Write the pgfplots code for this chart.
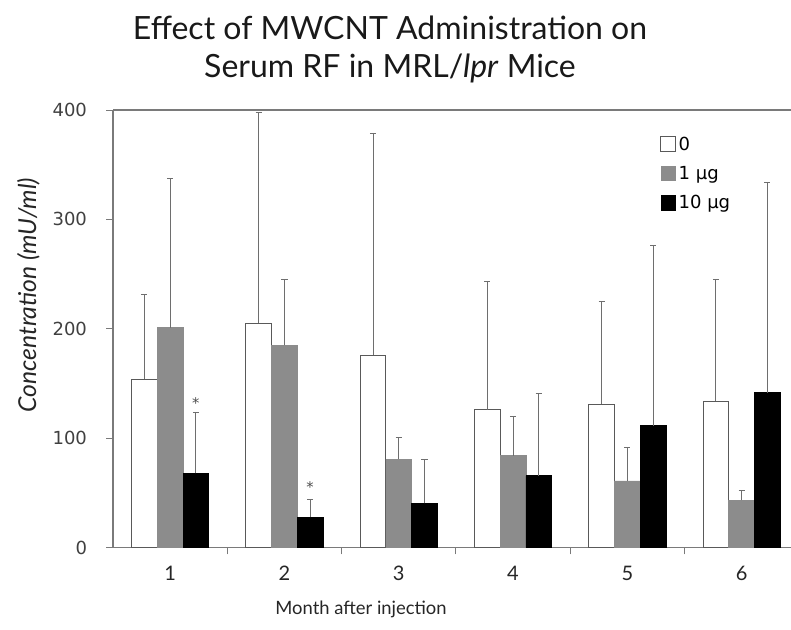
\documentclass[border=0pt]{standalone}
\usepackage{pgfplots}
\usepackage{pgfplotstable}
\pgfplotsset{compat=1.18}
\usepackage{fontspec}
\setmainfont{Lato}
\newfontfamily\verd{DejaVu Sans}
\definecolor{barg}{HTML}{8C8C8C}
\definecolor{axg}{HTML}{7A7A7A}
\definecolor{errg}{HTML}{6E6E6E}

\pgfplotstableread{
x y e
1 154 77
2 205 192.5
3 176 203
4 126 117
5 131 94
6 134 111
}\zero
\pgfplotstableread{
x y e
1 201 136
2 185 60
3 81 20
4 84 36
5 61 31
6 43.5 8.5
}\one
\pgfplotstableread{
x y e
1 68 56
2 28 16.5
3 40.5 40.5
4 66 75
5 111.5 165
6 141.6 192
}\ten

\begin{document}
\begin{tikzpicture}
\path[use as bounding box] (-84.75pt,-61pt) rectangle (508.5pt,410.8pt);
\begin{axis}[
  scale only axis, width=508.5pt, height=328.3pt,
  xmin=0.5, xmax=6.432, ymin=0, ymax=400,
  ybar=0pt, bar width=19.3pt,
  axis x line=box, axis y line*=left,
  axis line style={axg, line width=0.8pt},
  xtick={1.5,2.5,3.5,4.5,5.5}, xticklabels={},
  extra x ticks={1,2,3,4,5,6},
  extra x tick labels={1,2,3,4,5,6},
  extra x tick style={major tick length=0pt},
  xtick pos=bottom, ytick pos=left,
  tick align=outside,
  ytick={0,100,200,300,400},
  major tick length=5pt,
  tick style={axg, line width=0.6pt},
  /pgf/number format/assume math mode=true,
  yticklabel style={font=\verd\fontsize{13.5}{14}\selectfont, text=black!75, xshift=-11pt},
  xticklabel style={font=\fontsize{15}{16}\selectfont, text=black!85, yshift=-10.5pt},
  title={Effect of MWCNT Administration on\\Serum RF in MRL/\textit{lpr} Mice},
  title style={font=\fontsize{24}{29}\selectfont, align=center, at={(rel axis cs:0.4086,1.042)}, anchor=south, inner sep=0pt, text=black!90},
  ylabel={\textit{Concentration (mU/ml)}},
  ylabel style={font=\fontsize{18.5}{21}\selectfont, at={(rel axis cs:-0.125,0.577)}, anchor=center, text=black!85},
  xlabel={Month after injection},
  xlabel style={font=\fontsize{13.8}{16}\selectfont, at={(rel axis cs:0.3658,-0.14)}, anchor=center, text=black!85},
  legend style={draw=none, fill=none, at={(rel axis cs:0.807,0.945)}, anchor=north west,
    font=\verd\fontsize{13.5}{14}\selectfont, row sep=6.5pt, inner sep=0pt,
    /tikz/every even column/.append style={column sep=3pt}},
  legend cell align=left,
  legend image code/.code={\draw[#1] (0pt,-5pt) rectangle (11pt,6pt);},
  error bars/error bar style={errg, line width=0.7pt},
  error bars/error mark options={rotate=90, mark size=2.3pt, errg, line width=0.7pt},
]
\addplot+[fill=white, draw=black!65, line width=0.7pt,
  error bars/.cd, y dir=plus, y explicit]
  table[x=x, y=y, y error=e] {\zero};
\addplot+[fill=barg, draw=barg, line width=0.5pt,
  error bars/.cd, y dir=plus, y explicit]
  table[x=x, y=y, y error=e] {\one};
\addplot+[fill=black, draw=black, line width=0.5pt,
  error bars/.cd, y dir=plus, y explicit]
  table[x=x, y=y, y error=e] {\ten};
\legend{0, 1 µg, 10 µg}
\node[font=\verd\fontsize{11}{12}\selectfont, text=black!70] at (axis cs:1.225,132) {*};
\node[font=\verd\fontsize{11}{12}\selectfont, text=black!70] at (axis cs:2.225,55) {*};
\end{axis}
\end{tikzpicture}
\end{document}
